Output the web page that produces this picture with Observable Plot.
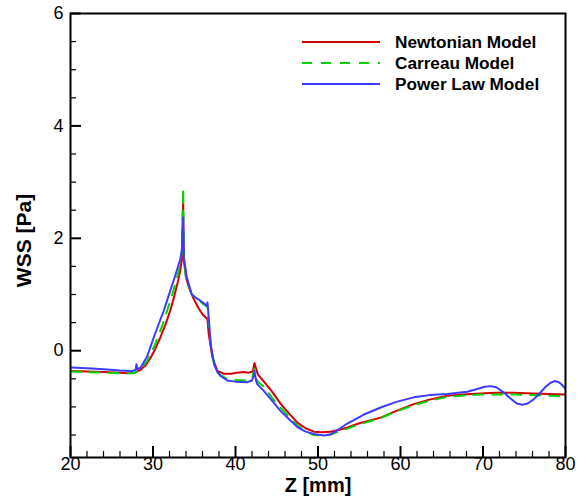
<!DOCTYPE html>
<html><head><meta charset="utf-8">
<script src="https://cdn.jsdelivr.net/npm/d3@7"></script>
<script src="https://cdn.jsdelivr.net/npm/@observablehq/plot@0.6"></script>
<style>
body{margin:0;background:#fff}
#wrap{position:relative;width:586px;height:497px;overflow:hidden}
#legend{position:absolute;left:0;top:0}
</style>
</head><body><div id="wrap"></div>
<script>
// ---- data ----
const seriesNames = ["Newtonian Model", "Carreau Model", "Power Law Model"];
const seriesColors = ["#d60000", "#00d400", "#3c3cff"];

const zNewt = [20,22,24,26,27,27.8,28.5,29.1,29.7,30.3,30.9,31.5,32.1,32.6,33.0,33.3,33.5,33.65,33.75,34.0,34.5,35.0,35.5,36.0,36.6,36.75,37.2,37.8,38.6,39.5,40.2,41.0,41.6,42.1,42.3,42.5,42.7,43.5,44.5,45.5,46.5,47.5,48.5,49.5,50.5,51.5,52.5,53.5,55,57.6,59.5,61.6,63.5,65.7,67.5,69.7,71.5,73.7,76,78,80];
const wNewt = [-0.36,-0.37,-0.38,-0.39,-0.4,-0.39,-0.34,-0.26,-0.13,0.04,0.24,0.46,0.72,0.98,1.22,1.42,1.62,2.67,1.6,1.3,1.07,0.9,0.76,0.65,0.56,0.3,-0.12,-0.36,-0.41,-0.41,-0.39,-0.38,-0.39,-0.37,-0.22,-0.32,-0.42,-0.56,-0.74,-0.95,-1.12,-1.28,-1.38,-1.44,-1.45,-1.44,-1.41,-1.37,-1.29,-1.19,-1.07,-0.95,-0.87,-0.80,-0.78,-0.76,-0.75,-0.75,-0.76,-0.77,-0.78];

const zCarr = [20,22,24,26,27.5,28.0,28.5,29.3,30.1,30.7,31.3,31.9,32.5,33.0,33.3,33.5,33.65,33.75,34.0,34.7,35.2,35.75,36.2,36.6,36.7,37.0,37.4,37.8,38.2,39.0,40.0,41.4,42.0,42.3,42.5,42.7,43.5,44.5,45.5,46.5,47.5,48.5,49.5,50.5,51.5,52.5,53.5,55,57.6,59.5,61.6,63.5,65.7,67.5,69.7,71.5,73.7,76,78,80];
const wCarr = [-0.37,-0.38,-0.39,-0.4,-0.4,-0.38,-0.33,-0.18,0.06,0.28,0.52,0.8,1.08,1.35,1.55,1.75,2.9,1.65,1.3,1.0,0.93,0.87,0.82,0.78,0.6,0.1,-0.22,-0.37,-0.44,-0.5,-0.52,-0.53,-0.5,-0.32,-0.5,-0.55,-0.65,-0.85,-1.02,-1.18,-1.33,-1.43,-1.5,-1.51,-1.49,-1.44,-1.39,-1.31,-1.2,-1.08,-0.97,-0.89,-0.82,-0.8,-0.78,-0.78,-0.78,-0.79,-0.8,-0.81];

const zPow = [20,22,24,26,27.5,27.9,28.0,28.1,28.5,29.3,30.1,30.7,31.3,31.9,32.5,33.0,33.3,33.5,33.65,33.75,34.1,34.7,35.2,35.75,36.2,36.5,36.6,36.65,37.0,37.4,37.8,38.2,39.0,40.0,41.4,42.0,42.2,42.3,42.45,42.6,43.4,44.5,45.45,46.5,47.5,48.5,49.5,50.7,51.5,52.3,53.5,55.5,57.6,59.5,61.6,63.5,65.7,67.0,68.1,69.3,70.2,70.9,71.6,72.5,73.4,74.1,74.75,75.4,76.1,76.8,77.6,78.2,78.7,79.2,79.6,80];
const wPow = [-0.3,-0.31,-0.33,-0.35,-0.36,-0.34,-0.24,-0.33,-0.3,-0.1,0.24,0.48,0.71,0.98,1.25,1.48,1.62,1.8,2.37,1.65,1.3,1.0,0.94,0.89,0.84,0.8,0.86,0.78,0.12,-0.24,-0.38,-0.45,-0.53,-0.55,-0.56,-0.53,-0.45,-0.36,-0.5,-0.59,-0.71,-0.9,-1.07,-1.22,-1.36,-1.44,-1.48,-1.51,-1.49,-1.42,-1.3,-1.14,-1.01,-0.91,-0.83,-0.79,-0.77,-0.75,-0.73,-0.68,-0.64,-0.63,-0.65,-0.74,-0.86,-0.94,-0.96,-0.94,-0.87,-0.77,-0.64,-0.57,-0.54,-0.56,-0.61,-0.68];

const xMajor = [20,30,40,50,60,70,80];
const xMinor = [22,24,26,28,32,34,36,38,42,44,46,48,52,54,56,58,62,64,66,68,72,74,76,78];
const yMajor = [0,2,4,6];
const yMinor = [-1.5,-1,-0.5,0.5,1,1.5,2.5,3,3.5,4.5,5,5.5];
const xLabel = "Z [mm]";
const yLabel = "WSS [Pa]";

// ---- build ----
const toRows = (zs, ws) => zs.map((z, i) => ({z, v: ws[i]}));
const newt = toRows(zNewt, wNewt), carr = toRows(zCarr, wCarr), pow = toRows(zPow, wPow);

const W = 586, H = 497, mL = 70, mR = 21, mT = 13, mB = 40;
const pw = W - mL - mR, ph = H - mT - mB;
const font = "'Liberation Sans', Arial, sans-serif";

const plot = Plot.plot({
  width: W, height: H,
  marginLeft: mL, marginRight: mR, marginTop: mT, marginBottom: mB,
  x: {domain: [20, 80]},
  y: {domain: [-1.9, 6]},
  style: {fontFamily: font, fontSize: "18px", color: "black", background: "white"},
  marks: [
    Plot.gridX({ticks: xMinor, insetTop: ph - 6, stroke: "black", strokeOpacity: 1, strokeWidth: 1.2}),
    Plot.gridX({ticks: xMajor, insetTop: ph - 11, stroke: "black", strokeOpacity: 1, strokeWidth: 2}),
    Plot.gridY({ticks: yMinor, insetRight: pw - 6, stroke: "black", strokeOpacity: 1, strokeWidth: 1.2}),
    Plot.gridY({ticks: yMajor, insetRight: pw - 11, stroke: "black", strokeOpacity: 1, strokeWidth: 2}),
    Plot.axisX({ticks: xMajor, tickSize: 0, tickPadding: 0, label: null, fontSize: 18}),
    Plot.axisY({ticks: yMajor, tickSize: 0, tickPadding: 7, label: null, fontSize: 18}),
    Plot.line(newt, {x: "z", y: "v", stroke: seriesColors[0], strokeWidth: 2, clip: true}),
    Plot.line(carr, {x: "z", y: "v", stroke: seriesColors[1], strokeWidth: 2, strokeDasharray: "10,9", clip: true}),
    Plot.line(pow, {x: "z", y: "v", stroke: seriesColors[2], strokeWidth: 2, clip: true}),
    Plot.frame({strokeWidth: 2}),
    Plot.text([xLabel], {frameAnchor: "bottom", lineAnchor: "middle", textAnchor: "middle", dy: 28, fontWeight: "bold", fontSize: 20}),
    Plot.text([yLabel], {frameAnchor: "left", lineAnchor: "middle", textAnchor: "middle", dx: -46, dy: 5, rotate: -90, fontWeight: "bold", fontSize: 21})
  ]
});
const wrap = document.getElementById("wrap");
wrap.appendChild(plot);

// legend overlay
const leg = d3.select(wrap).append("svg").attr("id", "legend")
  .attr("width", W).attr("height", H).style("pointer-events", "none");
const dashes = [null, "10,9", null];
seriesNames.forEach((name, i) => {
  const y = 42 + i * 21;
  leg.append("line").attr("x1", 302).attr("x2", 380).attr("y1", y).attr("y2", y)
    .attr("stroke", seriesColors[i]).attr("stroke-width", 2.2)
    .attr("stroke-dasharray", dashes[i]);
  leg.append("text").attr("x", 395).attr("y", y).attr("dy", "0.35em")
    .attr("font-family", font).attr("font-size", 17.2).attr("font-weight", "bold")
    .text(name);
});
</script></body></html>
